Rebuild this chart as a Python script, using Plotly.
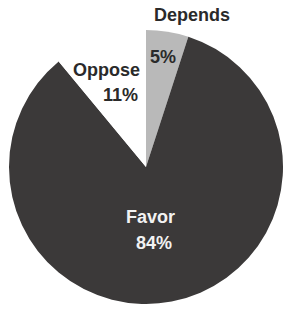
import plotly.graph_objects as go

labels = ["Depends", "Favor", "Oppose"]
values = [5, 84, 11]
colors = ["#b9b9b9", "#3b3939", "#ffffff"]

W, H = 283, 311

fig = go.Figure(go.Pie(
    labels=labels, values=values, sort=False, direction="clockwise",
    rotation=0, textinfo="none", hoverinfo="label+percent",
    marker=dict(colors=colors, line=dict(color="#e4e4e4", width=0)),
    domain=dict(x=[9 / W, 1.0], y=[(H - 305) / H, (H - 29) / H]),
    showlegend=False,
))

def px(x, y):
    return x / W, 1 - y / H

font_dark = dict(family="Liberation Sans, Arial, sans-serif", size=18, color="#2a2a2a")
font_light = dict(family="Liberation Sans, Arial, sans-serif", size=18, color="#f2f2f2")

annots = [
    ("<b>Depends</b>", 192, 15, font_dark),
    ("<b>5%</b>", 163, 57, font_dark),
    ("<b>Oppose</b>", 106, 70, font_dark),
    ("<b>11%</b>", 120, 95, font_dark),
    ("<b>Favor</b>", 150, 217, font_light),
    ("<b>84%</b>", 154, 243, font_light),
]
for t, x, y, f in annots:
    ax, ay = px(x, y)
    fig.add_annotation(text=t, x=ax, y=ay, xref="paper", yref="paper",
                       showarrow=False, font=f, xanchor="center", yanchor="middle")

fig.update_layout(width=W, height=H, margin=dict(l=0, r=0, t=0, b=0),
                  paper_bgcolor="white", plot_bgcolor="white")
fig.write_html("out.html", config={"displayModeBar": False},
               post_script="document.body.style.margin='0px';document.body.style.overflow='hidden';")
